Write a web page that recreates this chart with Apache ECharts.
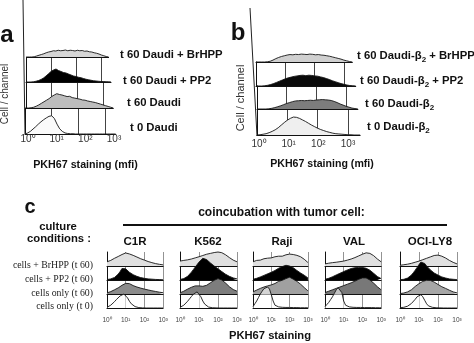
<!DOCTYPE html>
<html><head><meta charset="utf-8">
<script src="https://cdn.jsdelivr.net/npm/echarts@6/dist/echarts.min.js"></script>
<style>html,body{margin:0;padding:0;background:#fff}#c{width:474px;height:343px}</style>
</head><body><div id="c"></div>
<script>
// ---------- DATA ----------
const tickLabels = ['10⁰','10¹','10²','10³'];
// channel positions in decades (log10 of fluorescence)
const xAB = [0,0.1,0.2,0.3,0.4,0.5,0.6,0.7,0.8,0.9,1,1.1,1.2,1.3,1.4,1.5,1.6,1.7,1.8,1.9,2,2.1,2.2,2.3,2.4,2.5,2.6,2.7,2.8,2.9,3,3.1,3.2,3.3,3.4];
const xC  = [0,0.1,0.2,0.3,0.4,0.5,0.6,0.7,0.8,0.9,1,1.1,1.2,1.3,1.4,1.5,1.6,1.7,1.8,1.9,2,2.1,2.2,2.3,2.4,2.5,2.6,2.7,2.8,2.9,3];

// panel a (cell counts, % of row height)
const rowLabelsA = ['t 60 Daudi + BrHPP','t 60 Daudi + PP2','t 60 Daudi','t 0 Daudi'];
const aBrHPP = [0,0,0,1,4, 7,10,13,17,20, 22,25,24,27,25, 26,28,25,27,26, 24,27,25,26,23, 24,21,20,17,15, 12,8,5,2,0];
const aPP2   = [0,0,0,1,3, 6,10,16,24,33, 42,48,52,46,42, 38,36,32,28,24, 22,19,17,14,11, 9,7,5,4,3, 2,2,1,1,0];
const aT60   = [0,0,1,3,7, 12,18,24,30,36, 44,50,55,52,50, 47,44,45,40,38, 36,34,31,30,27, 25,23,21,18,15, 12,9,6,3,0];
const aT0    = [0,4,10,19,28, 38,47,55,62,68, 70,60,38,20,10, 4,2,1,1,0, 0,0,0,0,0, 0,0,0,0,0, 0,0,0,0,0];

// panel b
const rowLabelsB = ['t 60 Daudi-β₂ + BrHPP','t 60 Daudi-β₂ + PP2','t 60 Daudi-β₂','t 0 Daudi-β₂'];
const bBrHPP = [0,0,0,0,1, 3,8,14,19,23, 26,29,31,30,32, 31,33,32,31,33, 32,30,31,29,28, 26,24,21,18,15, 12,8,5,2,0];
const bPP2   = [0,0,0,1,3, 6,10,15,20,25, 30,34,37,40,42, 44,45,43,45,44, 42,41,38,35,31, 27,22,18,14,10, 7,4,2,1,0];
const bT60   = [0,0,0,0,1, 3,6,10,14,19, 24,28,32,35,36, 37,36,37,38,37, 39,40,41,40,39, 37,33,28,22,17, 12,8,4,2,0];
const bT0    = [0,1,3,5,9, 14,20,28,38,48, 57,64,69,68,64, 58,52,45,38,32, 26,21,17,13,10, 7,5,4,3,2, 1,1,0,0,0];

// panel c
const rowLabelsC = ['cells + BrHPP (t 60)','cells + PP2 (t 60)','cells only (t 60)','cells only (t 0)'];
const cellLines = ['C1R','K562','Raji','VAL','OCI-LY8'];
const c1rBrHPP = [30,35,40,48,55, 60,68,75,82,88, 93,90,86,80,76, 70,64,58,52,47, 42,37,32,28,24, 20,17,14,12,10, 8];
const c1rPP2   = [3,5,8,12,18, 28,42,60,82,93, 80,68,55,46,38, 31,26,21,17,14, 12,10,8,7,6, 5,4,3,3,2, 2];
const c1rT60   = [8,12,17,23,30, 36,44,52,62,70, 76,80,74,66,60, 55,50,46,42,38, 35,32,29,26,23, 20,18,15,13,11, 9];
const c1rT0    = [5,12,20,32,45, 60,74,86,95,100, 96,72,48,30,18, 10,6,3,2,1, 1,0,0,0,0, 0,0,0,0,0, 0];
const k562BrHPP = [35,38,40,42,44, 46,50,54,58,62, 66,70,75,80,84, 88,90,93,96,98, 100,98,95,88,80, 70,60,50,42,35, 30];
const k562PP2   = [4,6,10,16,26, 40,56,74,92,110, 128,142,155,152,146, 135,122,110,100,90, 80,70,60,50,41, 33,26,20,15,11, 8];
const k562T60   = [8,14,20,28,35, 42,48,54,58,60, 58,56,55,57,62, 70,80,90,98,105, 110,108,100,90,78, 65,52,42,32,25, 20];
const k562T0    = [5,10,20,32,48, 65,82,98,110,115, 105,80,50,28,14, 7,4,2,2,1, 1,0,0,0,0, 0,0,0,0,0, 0];
const rajiBrHPP = [30,36,40,45,42, 48,52,50,56,60, 58,62,66,64,70, 72,70,76,80,82, 85,84,82,80,76, 72,66,58,48,36, 25];
const rajiPP2   = [5,8,12,17,22, 27,33,38,44,50, 55,62,68,76,84, 90,96,100,105,103, 100,96,88,78,68, 60,50,42,34,24, 15];
const rajiT60   = [15,22,28,35,40, 45,50,54,58,62, 65,70,75,82,90, 88,98,105,110,116, 120,112,106,100,90, 80,70,58,46,34, 22];
const rajiT0    = [10,30,50,75,100, 120,138,148,150,135, 95,50,20,10,8, 6,5,5,4,4, 4,3,3,3,3, 3,2,2,2,2, 2];
const valBrHPP = [15,18,20,22,24, 25,27,29,31,33, 35,38,42,46,50, 55,60,66,72,78, 84,90,94,95,90, 82,74,62,50,40, 30];
const valPP2   = [5,8,12,17,23, 30,36,42,48,54, 60,66,72,78,82, 85,88,86,90,88, 90,87,84,78,70, 60,48,36,25,16, 10];
const valT60   = [10,15,20,25,30, 35,40,45,50,55, 60,65,70,75,80, 86,92,98,105,110, 115,118,115,108,100, 90,78,65,52,40, 30];
const valT0    = [10,25,40,60,80, 105,130,145,150,110, 50,20,12,8,6, 5,5,4,4,4, 4,3,3,3,3, 3,2,2,2,2, 2];
const ociBrHPP = [5,7,9,11,13, 15,19,23,27,31, 35,40,45,50,55, 60,65,70,75,77, 78,76,70,65,57, 48,40,32,26,20, 15];
const ociPP2   = [2,3,5,8,14, 22,35,52,70,90, 110,128,135,118,100, 86,72,60,50,42, 35,28,22,18,14, 11,8,6,5,4, 3];
const ociT60   = [3,5,7,10,15, 22,30,42,54,65, 74,82,90,95,98, 100,97,92,85,76, 68,60,52,46,40, 33,27,20,15,11, 8];
const ociT0    = [2,3,5,8,13, 20,32,45,62,80, 92,95,80,55,30, 15,8,5,3,2, 2,1,0,0,0, 0,0,0,0,0, 0];

// ---------- BUILD ----------
const SANS = '"Liberation Sans", Arial, Helvetica, sans-serif';
const SERIF = '"Liberation Serif", "Times New Roman", serif';
const grids = [], xAxes = [], yAxes = [], series = [];
const tickFmt = v => (Number.isInteger(v) && v >= 0 && v < tickLabels.length) ? tickLabels[v] : '';

function addRow(r) {
  const gi = grids.length;
  grids.push({left: r.left, top: r.top, width: r.dec * r.xmax, height: r.h});
  xAxes.push({gridIndex: gi, type: 'value', min: 0, max: r.xmax, interval: 1,
    axisLine: {show: true, onZero: false, lineStyle: {color: '#111', width: 1}},
    axisTick: {show: false},
    axisLabel: r.labels ? {show: true, margin: r.labelMargin, fontSize: r.labelSize, color: '#444', fontFamily: SANS, formatter: tickFmt} : {show: false},
    splitLine: {show: r.split, showMinLine: false, showMaxLine: r.maxLine, lineStyle: {color: r.splitColor, width: r.splitWidth}}});
  yAxes.push({gridIndex: gi, type: 'value', min: 0, max: 100,
    axisLine: {show: r.leftLine, onZero: false, lineStyle: {color: '#111', width: 1}},
    axisTick: {show: false}, axisLabel: {show: false}, splitLine: {show: false}});
  series.push({type: 'line', xAxisIndex: gi, yAxisIndex: gi, data: r.xs.map((x, i) => [x, r.ys[i]]),
    symbol: 'none', clip: false, silent: true, animation: false,
    lineStyle: {color: '#151515', width: 0.9}, areaStyle: {color: r.fill, opacity: 1}});
}
function addLabelAxis(left, dec, top, size) {
  const gi = grids.length;
  grids.push({left: left, top: top, width: dec * 3, height: 1});
  xAxes.push({gridIndex: gi, type: 'value', min: 0, max: 3, interval: 1,
    axisLine: {show: false}, axisTick: {show: false}, splitLine: {show: false},
    axisLabel: {show: true, margin: 2, fontSize: size, color: '#333', fontFamily: SANS, formatter: tickFmt}});
  yAxes.push({gridIndex: gi, type: 'value', show: false, min: 0, max: 1});
}

// panel a
const aRows = [
  {left: 27, dec: 24,    top: 32,  h: 25, ys: aBrHPP, fill: '#d6d6d6', split: false, leftLine: false},
  {left: 26, dec: 25,    top: 57,  h: 25, ys: aPP2,   fill: '#000000', split: true,  leftLine: true},
  {left: 26, dec: 25.67, top: 82,  h: 26, ys: aT60,   fill: '#bdbdbd', split: true,  leftLine: true},
  {left: 25, dec: 26.67, top: 108, h: 26, ys: aT0,    fill: '#fafafa', split: true,  leftLine: true}
];
aRows.forEach(r => addRow(Object.assign({xs: xAB, xmax: 3.4, maxLine: false, splitColor: '#444', splitWidth: 1}, r)));
addLabelAxis(28, 28.67, 131, 10);

// panel b
const bRows = [
  {left: 256, dec: 28.33, top: 38,  h: 24, ys: bBrHPP, fill: '#d0d0d0', split: false, leftLine: false},
  {left: 256, dec: 29.33, top: 62,  h: 24, ys: bPP2,   fill: '#0a0a0a', split: true,  leftLine: true},
  {left: 257, dec: 29.67, top: 86,  h: 23, ys: bT60,   fill: '#7d7d7d', split: true,  leftLine: true},
  {left: 257, dec: 30.33, top: 109, h: 26, ys: bT0,    fill: '#efefef', split: true,  leftLine: true}
];
bRows.forEach(r => addRow(Object.assign({xs: xAB, xmax: 3.4, maxLine: false, splitColor: '#444', splitWidth: 1}, r)));
addLabelAxis(259, 29.67, 136, 10);

// panel c
const cData = [
  [c1rBrHPP, c1rPP2, c1rT60, c1rT0],
  [k562BrHPP, k562PP2, k562T60, k562T0],
  [rajiBrHPP, rajiPP2, rajiT60, rajiT0],
  [valBrHPP, valPP2, valT60, valT0],
  [ociBrHPP, ociPP2, ociT60, ociT0]
];
const cLeft = [107, 180, 253, 325, 400];
const cDec = [18.7, 19, 18.3, 18.7, 19];
const cT60Fill = ['#8c8c8c', '#7d7d7d', '#a0a0a0', '#787878', '#a6a6a6'];
const cTops = [252, 266, 280, 294];
cData.forEach((set, p) => {
  const fills = ['#e0e0e0', '#000000', cT60Fill[p], 'rgba(255,255,255,0.55)'];
  set.forEach((ys, k) => addRow({xs: xC, ys: ys, xmax: 3, left: cLeft[p], dec: cDec[p], top: cTops[k], h: 14,
    fill: fills[k], split: true, maxLine: true, splitColor: '#777', splitWidth: 0.8, leftLine: true,
    labels: k === 3, labelMargin: 9, labelSize: 6.5}));
});

// ---------- TEXT ----------
const g = [];
function txt(t, x, y, font, align, color, extra) {
  g.push(Object.assign({type: 'text', x: x, y: y, silent: true,
    style: {text: t, font: font, fill: color || '#111', textAlign: align || 'left', textVerticalAlign: 'middle'}}, extra || {}));
}
txt('a', 7, 35, 'bold 24px ' + SANS, 'center');
txt('b', 238, 33, 'bold 24px ' + SANS, 'center');
txt('c', 30, 207, 'bold 20px ' + SANS, 'center');
txt('Cell / channel', 5, 94, '10px ' + SANS, 'center', '#333', {rotation: Math.PI / 2});
txt('Cell / channel', 241, 98, '11px ' + SANS, 'center', '#333', {rotation: Math.PI / 2});
const aLabX = [120, 123, 127, 130], aLabY = [55, 81, 103, 127.5];
rowLabelsA.forEach((s, i) => txt(s, aLabX[i], aLabY[i], 'bold 11.3px ' + SANS, 'left'));
const bLabX = [357, 360, 365, 367], bLabY = [56, 81, 104, 127];
const richB = {
  n: {fontSize: 11.3, fontWeight: 'bold', fontFamily: SANS, fill: '#111', lineHeight: 16, verticalAlign: 'middle'},
  s: {fontSize: 8, fontWeight: 'bold', fontFamily: SANS, fill: '#111', lineHeight: 16, verticalAlign: 'bottom'}
};
rowLabelsB.forEach((s, i) => g.push({type: 'text', x: bLabX[i], y: bLabY[i], silent: true,
  style: {text: '{n|' + s.replace('₂', '}{s|2}{n|') + '}', rich: richB, textAlign: 'left', textVerticalAlign: 'middle'}}));
txt('PKH67 staining (mfi)', 85.5, 165, 'bold 10.7px ' + SANS, 'center');
txt('PKH67 staining (mfi)', 322, 164, 'bold 10.6px ' + SANS, 'center');
txt('culture', 58, 227, 'bold 11.3px ' + SANS, 'center');
txt('conditions :', 59, 239, 'bold 11.3px ' + SANS, 'center');
const cLabY = [265, 279, 293, 306];
rowLabelsC.forEach((s, i) => txt(s, 93, cLabY[i], '9.8px ' + SERIF, 'right', '#222'));
txt('coincubation with tumor cell:', 281.5, 213, 'bold 12px ' + SANS, 'center');
g.push({type: 'line', silent: true, shape: {x1: 123, y1: 225, x2: 447, y2: 225}, style: {stroke: '#111', lineWidth: 1.8}});
const cellX = [135, 208, 282, 354, 430];
cellLines.forEach((s, i) => txt(s, cellX[i], 242, 'bold 11.5px ' + SANS, 'center'));
txt('PKH67 staining', 270, 336, 'bold 11.2px ' + SANS, 'center');
// tall cell-count axis lines of panels a and b
g.push({type: 'line', silent: true, shape: {x1: 23, y1: 0, x2: 25, y2: 134}, style: {stroke: '#222', lineWidth: 1}});
g.push({type: 'line', silent: true, shape: {x1: 250, y1: 8, x2: 257, y2: 136}, style: {stroke: '#222', lineWidth: 1}});

const chart = echarts.init(document.getElementById('c'), null, {renderer: 'canvas'});
chart.setOption({
  backgroundColor: '#ffffff',
  animation: false,
  grid: grids, xAxis: xAxes, yAxis: yAxes, series: series,
  graphic: {elements: g}
});
</script>
</body></html>
